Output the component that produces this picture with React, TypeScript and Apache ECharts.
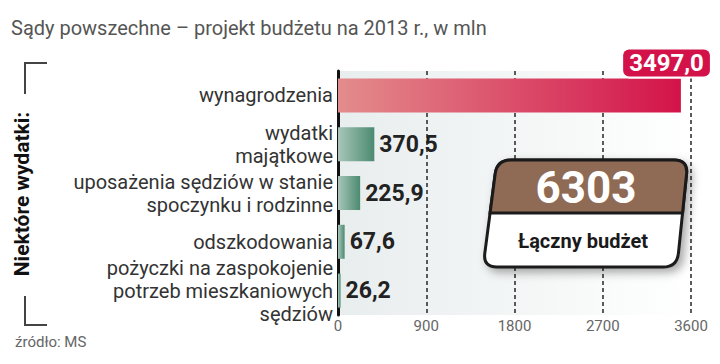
import React, { useEffect, useRef } from "react";
import * as echarts from "echarts";

const titleText = "Sądy powszechne – projekt budżetu na 2013 r., w mln";
const sourceText = "źródło: MS";
const sideTitle = "Niektóre wydatki:";
const categories = [
  "wynagrodzenia",
  "wydatki\nmajątkowe",
  "uposażenia sędziów w stanie\nspoczynku i rodzinne",
  "odszkodowania",
  "pożyczki na zaspokojenie\npotrzeb mieszkaniowych\nsędziów",
];
const values = [3497.0, 370.5, 225.9, 67.6, 26.2];
const valueLabels = ["3497,0", "370,5", "225,9", "67,6", "26,2"];
const axisMin = 0;
const axisMax = 3600;
const axisInterval = 900;
const totalBudget = "6303";
const totalLabel = "Łączny budżet";

const BOLD = "Roboto, 'Liberation Sans', sans-serif";

function roundedPoly(pts: number[][], radii: number[]): string {
  const n = pts.length;
  let d = "";
  for (let i = 0; i < n; i++) {
    const p = pts[i];
    const prev = pts[(i - 1 + n) % n];
    const next = pts[(i + 1) % n];
    const r = radii[i];
    const v1 = [prev[0] - p[0], prev[1] - p[1]];
    const v2 = [next[0] - p[0], next[1] - p[1]];
    const l1 = Math.hypot(v1[0], v1[1]);
    const l2 = Math.hypot(v2[0], v2[1]);
    const a = [p[0] + (v1[0] / l1) * r, p[1] + (v1[1] / l1) * r];
    const b = [p[0] + (v2[0] / l2) * r, p[1] + (v2[1] / l2) * r];
    d += (i === 0 ? "M" : "L") + a[0].toFixed(2) + " " + a[1].toFixed(2);
    if (r > 0) d += " Q" + p[0] + " " + p[1] + " " + b[0].toFixed(2) + " " + b[1].toFixed(2);
  }
  return d + "Z";
}

let registered = false;
function registerShapes() {
  if (registered) return;
  registered = true;
  const TL = [497, 160], TR = [688, 160], BR = [677, 267], BL = [483, 267];
  const full = roundedPoly([TL, TR, BR, BL], [14, 14, 14, 14]);
  const t = (213 - 160) / (267 - 160);
  const ML = [TL[0] + (BL[0] - TL[0]) * t, 213];
  const MR = [TR[0] + (BR[0] - TR[0]) * t, 213];
  const top = roundedPoly([TL, TR, MR, ML], [14, 14, 0, 0]);
  echarts.graphic.registerShape("boxFull", echarts.graphic.extendPath(full, {}));
  echarts.graphic.registerShape("boxTop", echarts.graphic.extendPath(top, {}));
}

export default function App() {
  const ref = useRef<HTMLDivElement>(null);
  useEffect(() => {
    registerShapes();
    const chart = echarts.init(ref.current!, null, { renderer: "svg" });
    const redGrad = new echarts.graphic.LinearGradient(0, 0, 1, 0, [
      { offset: 0, color: "#e38c8c" },
      { offset: 1, color: "#d3134a" },
    ]);
    const greenGrad = () =>
      new echarts.graphic.LinearGradient(0, 0, 1, 0, [
        { offset: 0, color: "#a9c6b9" },
        { offset: 1, color: "#4b8a71" },
      ]);
    const data = values.map((v, i) => {
      if (i === 0) {
        return {
          value: v,
          itemStyle: { color: redGrad },
          label: {
            show: true,
            position: ["100%", 0],
            align: "right",
            verticalAlign: "bottom",
            offset: [29, -2],
            color: "#fff",
            fontFamily: BOLD,
            fontWeight: "bold",
            fontSize: 24,
            backgroundColor: "#d3124a",
            borderColor: "#fff",
            borderWidth: 2,
            borderRadius: 6,
            padding: [2, 6, 1, 6],
            formatter: valueLabels[i],
          },
        };
      }
      return { value: v, itemStyle: { color: greenGrad() } };
    });
    chart.setOption({
      animation: false,
      grid: {
        left: 338,
        right: 29,
        top: 71,
        bottom: 49,
        show: true,
        borderWidth: 0,
        backgroundColor: new echarts.graphic.LinearGradient(0, 0, 1, 0, [
          { offset: 0, color: "#e8eded" },
          { offset: 1, color: "#ffffff" },
        ]),
      },
      xAxis: {
        type: "value",
        min: axisMin,
        max: axisMax,
        interval: axisInterval,
        axisLine: { show: false },
        axisTick: { show: false },
        axisLabel: {
          color: "#666",
          fontSize: 15,
          fontFamily: "Roboto, sans-serif",
          margin: 3,
          formatter: (v: number) => String(v),
        },
        splitLine: { show: true, lineStyle: { color: "#333", width: 1.6, type: [4, 3] } },
      },
      yAxis: {
        type: "category",
        inverse: true,
        data: categories,
        axisLine: { show: true, lineStyle: { color: "#111", width: 3 } },
        axisTick: { show: false },
        axisLabel: {
          color: "#333",
          fontSize: 20,
          lineHeight: 23,
          fontFamily: "Roboto, sans-serif",
          margin: 5,
          align: "right",
        },
      },
      series: [
        {
          type: "bar",
          barWidth: 34,
          data,
          label: {
            show: true,
            position: "right",
            distance: 5,
            color: "#222",
            fontFamily: BOLD,
            fontWeight: "bold",
            fontSize: 23,
            formatter: (p: any) => valueLabels[p.dataIndex],
          },
        },
      ],
      graphic: [
        {
          type: "text",
          x: 11,
          y: 28,
          style: {
            text: titleText,
            fill: "#555",
            fontSize: 20,
            fontFamily: "Roboto, sans-serif",
            verticalAlign: "middle",
          },
        },
        {
          type: "polyline",
          shape: { points: [[47, 63], [25, 63], [25, 94]] },
          style: { stroke: "#444", lineWidth: 2, fill: null },
        },
        {
          type: "polyline",
          shape: { points: [[25, 296], [25, 325], [47, 325]] },
          style: { stroke: "#444", lineWidth: 2, fill: null },
        },
        {
          type: "text",
          x: 22,
          y: 194,
          rotation: Math.PI / 2,
          style: {
            text: sideTitle,
            fill: "#111",
            fontSize: 21,
            fontWeight: "bold",
            fontFamily: BOLD,
            align: "center",
            verticalAlign: "middle",
          },
        },
        {
          type: "text",
          x: 15,
          y: 342,
          style: {
            text: sourceText,
            fill: "#666",
            fontSize: 15,
            fontFamily: "Roboto, sans-serif",
            verticalAlign: "middle",
          },
        },
        {
          type: "boxFull",
          x: 0,
          y: 0,
          z: 100,
          style: {
            fill: "#fff",
            stroke: "#1a1a1a",
            lineWidth: 3,
            shadowBlur: 10,
            shadowOffsetX: 4,
            shadowOffsetY: 4,
            shadowColor: "rgba(0,0,0,0.35)",
          },
        },
        {
          type: "boxTop",
          x: 0,
          y: 0,
          z: 101,
          style: { fill: "#8f6a55", stroke: "#1a1a1a", lineWidth: 3 },
        },
        {
          type: "text",
          x: 586,
          y: 188,
          z: 102,
          style: {
            text: totalBudget,
            fill: "#fff",
            fontSize: 44,
            fontWeight: "bold",
            fontFamily: BOLD,
            align: "center",
            verticalAlign: "middle",
          },
        },
        {
          type: "text",
          x: 583,
          y: 241,
          z: 102,
          style: {
            text: totalLabel,
            fill: "#1a1a1a",
            fontSize: 20,
            fontWeight: "bold",
            fontFamily: BOLD,
            align: "center",
            verticalAlign: "middle",
          },
        },
      ],
    });
    return () => chart.dispose();
  }, []);
  return (
    <div
      ref={ref}
      style={{ position: "absolute", left: 0, top: 0, width: 720, height: 364, background: "#fff" }}
    />
  );
}
